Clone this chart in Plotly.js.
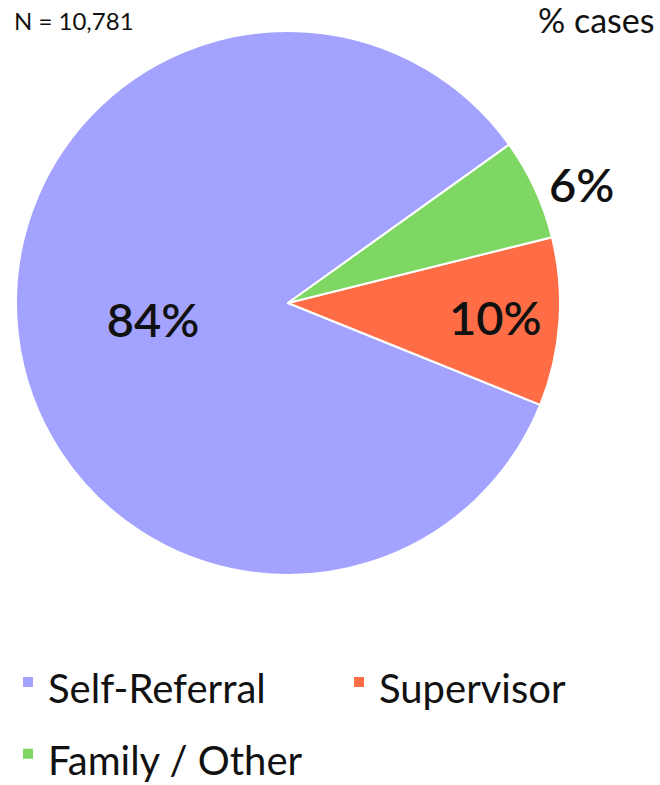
<!DOCTYPE html>
<html>
<head>
<meta charset="utf-8">
<script src="https://cdn.plot.ly/plotly-3.0.1.min.js"></script>
<style>html,body{margin:0;padding:0;background:#fff;}#chart{width:660px;height:785px;}</style>
</head>
<body>
<div id="chart"></div>
<script>
const categories = ["Self-Referral", "Supervisor", "Family / Other"];
const shares = [84, 10, 6];
const colors = ["#A3A3FF", "#FF6D47", "#7ED763"];
const sampleNote = "N = 10,781";
const unitNote = "% cases";

const W = 660, H = 785;
const FONT = "Lato, 'Open Sans', sans-serif";
const LEGEND_TEXT_SIZE = 40;

// legend display labels; the legend's own font size sets the row spacing
const legendLabels = categories.map(c => '<span style="font-size:' + LEGEND_TEXT_SIZE + 'px">' + c + '</span>');

const trace = {
  type: "pie",
  labels: legendLabels,
  values: shares,
  sort: false,
  direction: "counterclockwise",
  rotation: 112,
  marker: {colors: colors, line: {color: "#ffffff", width: 2}},
  texttemplate: "%{percent:.0%}",
  textposition: ["inside", "inside", "outside"],
  insidetextorientation: "horizontal",
  textfont: {family: FONT, size: 47, color: "#111111", weight: 600},
  outsidetextfont: {family: FONT, size: 47, color: "#111111", weight: 600},
  insidetextfont: {family: FONT, size: 47, color: "#111111", weight: 600},
  domain: {x: [16 / W, 560 / W], y: [1 - 575 / H, 1 - 31 / H]},
  hoverinfo: "percent"
};

const layout = {
  width: W, height: H,
  margin: {l: 0, r: 0, t: 0, b: 0, autoexpand: false},
  paper_bgcolor: "#ffffff",
  plot_bgcolor: "#ffffff",
  font: {family: FONT, color: "#111111"},
  showlegend: true,
  legend: {
    orientation: "h",
    x: 8 / W, xanchor: "left",
    y: 1 - 641 / H, yanchor: "top",
    font: {family: FONT, size: 53, color: "#111111"},
    entrywidth: 286, entrywidthmode: "pixels",
    traceorder: "normal"
  },
  annotations: [
    {text: sampleNote, xref: "paper", yref: "paper", x: 12 / W, y: 1 - 4 / H,
     xanchor: "left", yanchor: "top", showarrow: false,
     font: {family: FONT, size: 24, color: "#111111"}},
    {text: unitNote, xref: "paper", yref: "paper", x: 656 / W, y: 1 + 3 / H,
     xanchor: "right", yanchor: "top", showarrow: false,
     font: {family: FONT, size: 34, color: "#111111"}}
  ]
};

Plotly.newPlot("chart", [trace], layout, {displayModeBar: false, staticPlot: true});
</script>
</body>
</html>
